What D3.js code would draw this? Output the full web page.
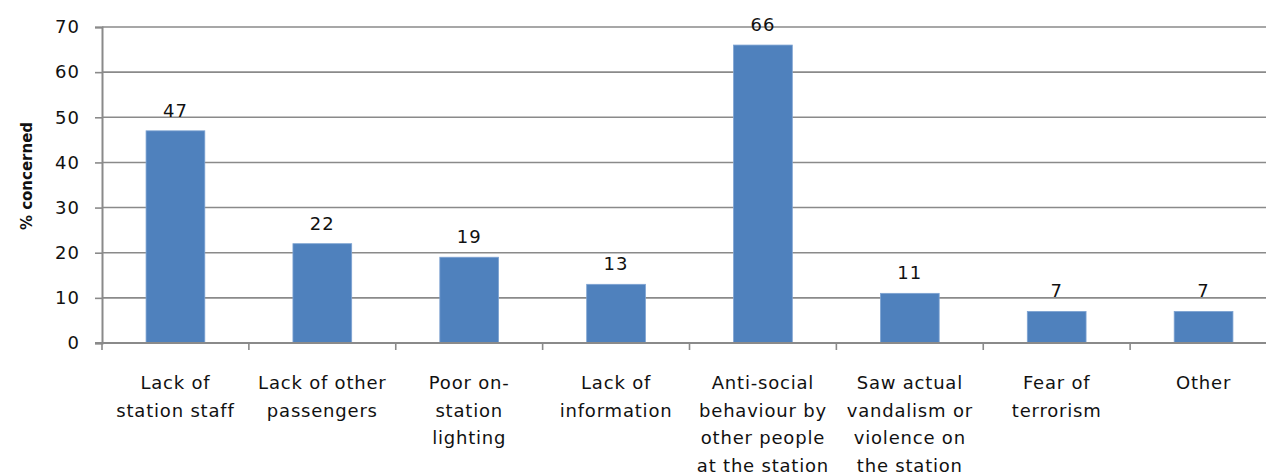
<!DOCTYPE html>
<html>
<head>
<meta charset="utf-8">
<script src="https://cdn.jsdelivr.net/npm/d3@7"></script>
<style>
  html, body { margin: 0; padding: 0; background: #fff; }
  svg { display: block; }
  text { font-family: "DejaVu Sans", "Open Sans", sans-serif; fill: #111; }
</style>
</head>
<body>
<svg id="chart" width="1266" height="474"></svg>
<script>
// Reasons passengers feel unsafe at stations
const categories = [
  "Lack of\nstation staff",
  "Lack of other\npassengers",
  "Poor on-\nstation\nlighting",
  "Lack of\ninformation",
  "Anti-social\nbehaviour by\nother people\nat the station",
  "Saw actual\nvandalism or\nviolence on\nthe station",
  "Fear of\nterrorism",
  "Other"
];
const values = [47, 22, 19, 13, 66, 11, 7, 7];
const yTicks = [0, 10, 20, 30, 40, 50, 60, 70];
const yTitle = "% concerned";

const svg = d3.select("#chart");
const margin = { left: 102, top: 27, bottom: 131 };
const plotW = 1175;
const plotBottom = 474 - margin.bottom;

const x = d3.scaleBand()
  .domain(categories)
  .range([margin.left, margin.left + plotW])
  .paddingInner(0.6)
  .paddingOuter(0.3);

const y = d3.scaleLinear()
  .domain([0, 70])
  .range([plotBottom, margin.top]);

const gridColor = "#8a8a8a";
const labelFont = "'DejaVu Sans', 'Open Sans', sans-serif";

// horizontal gridlines
svg.append("g")
  .selectAll("line")
  .data(yTicks.filter(d => d > 0))
  .join("line")
  .attr("x1", margin.left)
  .attr("x2", margin.left + plotW)
  .attr("y1", d => y(d))
  .attr("y2", d => y(d))
  .attr("stroke", gridColor)
  .attr("stroke-width", 1.6);

// bars
svg.append("g")
  .selectAll("rect")
  .data(values)
  .join("rect")
  .attr("x", (d, i) => x(categories[i]))
  .attr("y", d => y(d))
  .attr("width", x.bandwidth())
  .attr("height", d => y(0) - y(d))
  .attr("fill", "#4f81bd")
  .attr("stroke", "#7ea3d2")
  .attr("stroke-width", 0.8);

// value labels
svg.append("g")
  .selectAll("text")
  .data(values)
  .join("text")
  .attr("x", (d, i) => x(categories[i]) + x.bandwidth() / 2)
  .attr("y", d => y(d) - 14)
  .attr("text-anchor", "middle")
  .style("font-size", "18px")
  .style("letter-spacing", "1px")
  .text(d => d);

// y axis
const yAxis = d3.axisLeft(y).tickValues(yTicks).tickSize(7).tickPadding(15);
const gy = svg.append("g")
  .attr("transform", `translate(${margin.left},0)`)
  .call(yAxis);
gy.select(".domain").attr("stroke", gridColor).attr("stroke-width", 2);
gy.selectAll(".tick line").attr("stroke", gridColor).attr("stroke-width", 1.6);
gy.selectAll(".tick text")
  .style("font-family", labelFont)
  .style("font-size", "18px")
  .style("letter-spacing", "1px")
  .attr("fill", "#111");

// x axis: category boundaries carry the ticks
const xAxisG = svg.append("g");
xAxisG.append("line")
  .attr("x1", margin.left - 7)
  .attr("x2", margin.left + plotW)
  .attr("y1", y(0))
  .attr("y2", y(0))
  .attr("stroke", gridColor)
  .attr("stroke-width", 2);
const step = x.step();
const boundaries = categories.map(c => x(c) - (step - x.bandwidth()) / 2);
xAxisG.selectAll("line.b")
  .data(boundaries)
  .join("line")
  .attr("class", "b")
  .attr("x1", d => d)
  .attr("x2", d => d)
  .attr("y1", y(0))
  .attr("y2", y(0) + 7)
  .attr("stroke", gridColor)
  .attr("stroke-width", 1.6);

// category labels
const labels = svg.append("g")
  .selectAll("text")
  .data(categories)
  .join("text")
  .attr("text-anchor", "middle")
  .style("font-size", "18px")
  .style("letter-spacing", "0.8px")
  .attr("transform", d => `translate(${x(d) + x.bandwidth() / 2},${y(0) + 46})`);
labels.selectAll("tspan")
  .data(d => d.split("\n"))
  .join("tspan")
  .attr("x", 0)
  .attr("dy", (d, i) => i === 0 ? 0 : 27.5)
  .text(d => d);

// y axis title
svg.append("text")
  .attr("transform", `translate(32,176) rotate(-90)`)
  .attr("text-anchor", "middle")
  .style("font-size", "15px")
  .style("font-weight", "bold")
  .text(yTitle);
</script>
</body>
</html>
